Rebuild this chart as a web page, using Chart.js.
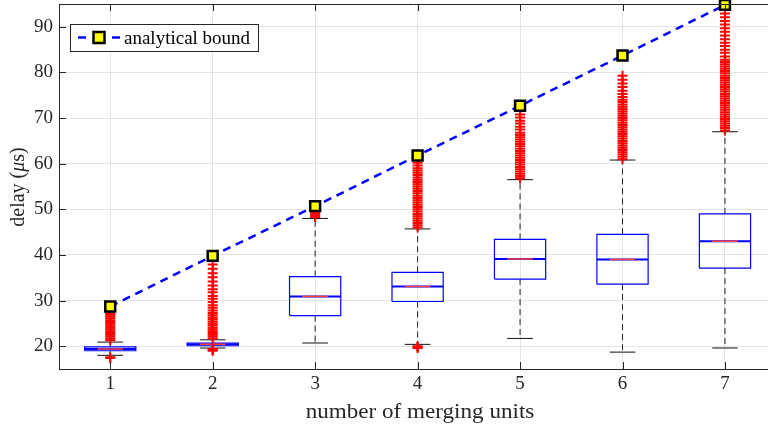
<!DOCTYPE html>
<html lang="en">
<head>
<meta charset="UTF-8">
<title>delay vs merging units</title>
<script src="https://cdn.jsdelivr.net/npm/chart.js"></script>
<style>
  body { margin: 0; background: #fff; }
  canvas { display: block; }
</style>
</head>
<body>
<canvas id="chart" width="768" height="425"></canvas>
<script>
// values
const units = [1, 2, 3, 4, 5, 6, 7];
const xTicks = [1, 2, 3, 4, 5, 6, 7];
const yTicks = [20, 30, 40, 50, 60, 70, 80, 90];

const whiskerLow  = [18.0, 19.6, 20.7, 20.4, 21.7, 18.7, 19.6];
const q1          = [19.0, 20.1, 26.7, 29.8, 34.7, 33.6, 37.1];
const median      = [19.4, 20.4, 30.9, 33.1, 39.1, 39.0, 43.0];
const q3          = [19.85, 20.7, 35.25, 36.2, 43.4, 44.5, 49.0];
const whiskerHigh = [20.9, 21.4, 48.0, 45.7, 56.5, 60.8, 67.0];
const bound       = [28.7, 39.8, 50.7, 61.8, 72.7, 83.7, 94.8];

const out1 = [21.3, 21.7, 22.1, 22.5, 22.9, 23.3, 23.7, 24.1, 24.5, 24.9, 25.3, 25.7, 26.1, 26.5, 26.9, 27.2, 17.6, 17.4];
const out2 = [21.7, 22.1, 22.5, 22.9, 23.3, 23.7, 24.1, 24.6, 25.0, 25.4, 25.9, 26.3, 26.8, 27.3, 27.8, 28.4, 29.0, 29.7,
              30.4, 31.0, 31.8, 32.5, 33.3, 34.2, 35.1, 36.0, 37.0, 37.9, 19.4, 19.2, 19.0];
const out3 = [48.3, 48.6, 48.9, 49.2];
const out4 = [46.0, 46.5, 47.0, 47.5, 48.0, 48.5, 49.0, 49.5, 50.0, 50.5, 51.0, 51.5, 52.0, 52.5, 53.0, 53.5, 54.0, 54.5,
              55.0, 55.5, 56.0, 56.5, 57.0, 57.5, 58.0, 58.5, 59.0, 59.6, 60.2, 20.0, 19.8, 19.6];
const out5 = [56.8, 57.3, 57.8, 58.3, 58.8, 59.3, 59.8, 60.3, 60.8, 61.3, 61.8, 62.3, 62.8, 63.3, 63.8, 64.3, 64.8, 65.3,
              65.8, 66.3, 66.8, 67.5, 68.1, 68.8, 69.4, 70.1, 70.8];
const out6 = [61.0, 61.5, 62.0, 62.5, 63.0, 63.5, 64.0, 64.5, 65.0, 65.5, 66.0, 66.5, 67.0, 67.5, 68.0, 68.5, 69.0, 69.5,
              70.0, 70.5, 71.0, 71.5, 72.0, 72.5, 73.0, 73.5, 74.0, 74.6, 75.3, 76.0, 76.8, 77.6, 78.4, 79.3];
const out7 = [67.3, 67.8, 68.3, 68.8, 69.3, 69.8, 70.3, 70.8, 71.3, 71.8, 72.3, 72.8, 73.3, 73.8, 74.3, 74.8, 75.3, 75.8,
              76.3, 76.8, 77.3, 77.8, 78.3, 78.8, 79.3, 79.8, 80.3, 80.8, 81.3, 81.8, 82.3, 82.8,
              83.5, 84.3, 85.0, 85.8, 86.5, 87.3, 88.1, 88.9, 89.7, 90.5, 91.3, 92.1, 92.9];
const outliers = [out1, out2, out3, out4, out5, out6, out7];

const BOX_HALF = 0.25;
const CAP_HALF = 0.125;
const SERIF = "'Liberation Serif', 'Times New Roman', serif";
const AXIS_COLOR = '#262626';

// line datasets made of separate segments (null y breaks the line)
function gap(x) { return { x: x, y: null }; }
const whiskerPts = [], capPts = [], boxPts = [], medPts = [], medRedPts = [], outPts = [];
units.forEach((u, i) => {
  whiskerPts.push({ x: u, y: q3[i] }, { x: u, y: whiskerHigh[i] }, gap(u),
                  { x: u, y: q1[i] }, { x: u, y: whiskerLow[i] }, gap(u));
  capPts.push({ x: u - CAP_HALF, y: whiskerHigh[i] }, { x: u + CAP_HALF, y: whiskerHigh[i] }, gap(u),
              { x: u - CAP_HALF, y: whiskerLow[i] }, { x: u + CAP_HALF, y: whiskerLow[i] }, gap(u));
  boxPts.push({ x: u - BOX_HALF, y: q1[i] }, { x: u + BOX_HALF, y: q1[i] }, { x: u + BOX_HALF, y: q3[i] },
              { x: u - BOX_HALF, y: q3[i] }, { x: u - BOX_HALF, y: q1[i] }, gap(u));
  medPts.push({ x: u - BOX_HALF, y: median[i] }, { x: u + BOX_HALF, y: median[i] }, gap(u));
  medRedPts.push({ x: u - BOX_HALF / 2, y: median[i] }, { x: u + BOX_HALF / 2, y: median[i] }, gap(u));
  outliers[i].forEach(v => outPts.push({ x: u, y: v }));
});

function segLine(data, color, width, dash, order) {
  return {
    type: 'line', data: data, borderColor: color, borderWidth: width,
    borderDash: dash, pointRadius: 0, pointHoverRadius: 0, spanGaps: false,
    fill: false, tension: 0, order: order
  };
}

// MATLAB-like frame: inward ticks, top border, axis titles and inset legend
const framePlugin = {
  id: 'frame',
  afterDraw(chart) {
    const ctx = chart.ctx, a = chart.chartArea;
    const xs = chart.scales.x, ys = chart.scales.y;
    ctx.save();
    ctx.strokeStyle = AXIS_COLOR;
    ctx.lineWidth = 1;
    ctx.beginPath();
    ctx.moveTo(a.left, a.top + 0.5); ctx.lineTo(a.right, a.top + 0.5);
    yTicks.forEach(v => {
      const py = Math.round(ys.getPixelForValue(v)) + 0.5;
      ctx.moveTo(a.left, py); ctx.lineTo(a.left + 7, py);
    });
    xTicks.forEach(v => {
      const px = Math.round(xs.getPixelForValue(v)) + 0.5;
      ctx.moveTo(px, a.bottom); ctx.lineTo(px, a.bottom - 7);
      ctx.moveTo(px, a.top); ctx.lineTo(px, a.top + 7);
    });
    ctx.stroke();

    // x title
    ctx.fillStyle = AXIS_COLOR;
    ctx.font = '21px ' + SERIF;
    ctx.textAlign = 'center';
    ctx.textBaseline = 'alphabetic';
    ctx.save();
    ctx.translate(420, 418);
    ctx.scale(1.1, 1);
    ctx.fillText('number of merging units', 0, 0);
    ctx.restore();

    // y title with italic mu
    ctx.save();
    ctx.translate(19, 187);
    ctx.rotate(-Math.PI / 2);
    ctx.textAlign = 'left';
    ctx.textBaseline = 'middle';
    const parts = [['delay (', '20px ' + SERIF], ['\u03bc', 'italic 20px ' + SERIF], ['s)', '20px ' + SERIF]];
    let total = 0;
    parts.forEach(p => { ctx.font = p[1]; total += ctx.measureText(p[0]).width; });
    let cx = -total / 2;
    parts.forEach(p => { ctx.font = p[1]; ctx.fillText(p[0], cx, 0); cx += ctx.measureText(p[0]).width; });
    ctx.restore();

    // legend
    ctx.fillStyle = '#fff';
    ctx.fillRect(70, 24, 188, 27);
    ctx.strokeStyle = AXIS_COLOR;
    ctx.strokeRect(70.5, 24.5, 188, 27);
    ctx.strokeStyle = '#0000ff';
    ctx.lineWidth = 2.5;
    ctx.beginPath();
    ctx.moveTo(78, 37.5); ctx.lineTo(86, 37.5);
    ctx.moveTo(112, 37.5); ctx.lineTo(120, 37.5);
    ctx.stroke();
    ctx.fillStyle = '#ffff00';
    ctx.fillRect(93.5, 32, 11, 11);
    ctx.strokeStyle = '#000';
    ctx.strokeRect(93.5, 32, 11, 11);
    ctx.fillStyle = '#000';
    ctx.font = '19px ' + SERIF;
    ctx.textAlign = 'left';
    ctx.textBaseline = 'alphabetic';
    ctx.fillText('analytical bound', 124, 44);
    ctx.restore();
  }
};

new Chart(document.getElementById('chart'), {
  type: 'scatter',
  data: {
    datasets: [
      {
        type: 'line', label: 'analytical bound',
        data: units.map((u, i) => ({ x: u, y: bound[i] })),
        borderColor: '#0000ff', borderWidth: 2.5, borderDash: [8, 6],
        pointStyle: 'rect', pointRadius: 7, pointHoverRadius: 7,
        pointBackgroundColor: '#ffff00', pointBorderColor: '#000', pointBorderWidth: 2.5,
        fill: false, tension: 0, clip: false, order: 0
      },
      {
        type: 'scatter', label: 'outliers', data: outPts,
        pointStyle: 'cross', pointRadius: 5, pointHoverRadius: 5,
        borderColor: '#ff0000', pointBorderWidth: 2, order: 1
      },
      segLine(medRedPts, '#ff4040', 1.5, [], 2),
      segLine(medPts, '#0000ff', 2, [], 3),
      segLine(boxPts, '#0000ff', 1.2, [], 4),
      segLine(capPts, '#111', 1, [], 5),
      segLine(whiskerPts, '#222', 1, [6, 4], 6)
    ]
  },
  options: {
    responsive: false,
    animation: false,
    devicePixelRatio: 1,
    layout: { autoPadding: false, padding: { top: 4, left: 0, right: 0, bottom: 0 } },
    plugins: { legend: { display: false }, tooltip: { enabled: false } },
    scales: {
      x: {
        type: 'linear', min: 0.5, max: 7.42,
        afterBuildTicks: s => { s.ticks = xTicks.map(v => ({ value: v })); },
        afterFit: s => { s.height = 56; s.paddingLeft = 0; s.paddingRight = 0; },
        grid: { color: '#e4e4e4', drawTicks: false },
        border: { display: true, color: AXIS_COLOR, width: 1 },
        ticks: { color: AXIS_COLOR, font: { family: SERIF, size: 19 }, padding: 4, maxRotation: 0 }
      },
      y: {
        type: 'linear', min: 15, max: 95,
        afterBuildTicks: s => { s.ticks = yTicks.map(v => ({ value: v })); },
        afterFit: s => { s.width = 59; s.paddingTop = 0; s.paddingBottom = 0; },
        grid: { color: '#e4e4e4', drawTicks: false },
        border: { display: true, color: AXIS_COLOR, width: 1 },
        ticks: { color: AXIS_COLOR, font: { family: SERIF, size: 19 }, padding: 6 }
      }
    }
  },
  plugins: [framePlugin]
});
</script>
</body>
</html>
